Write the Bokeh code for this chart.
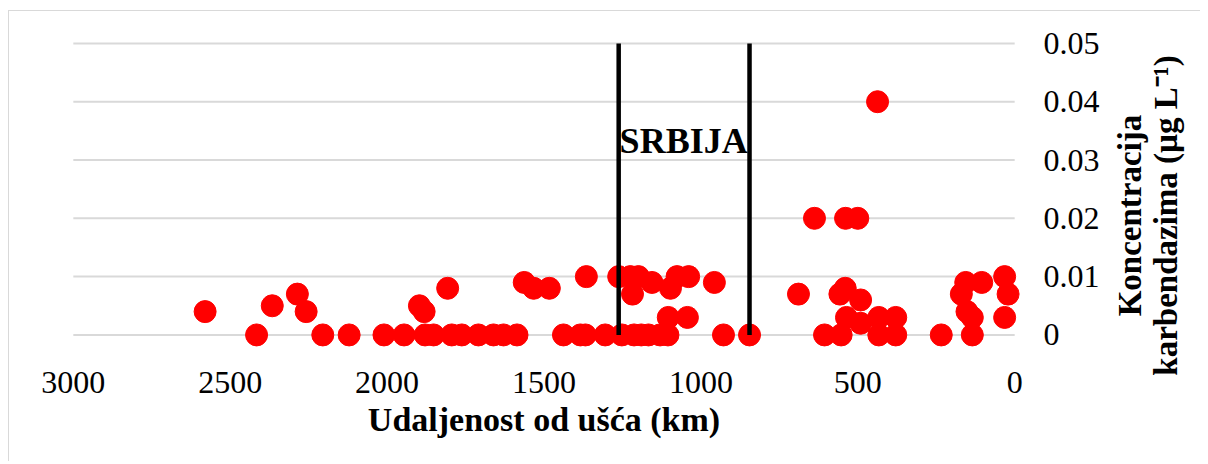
from bokeh.plotting import figure
from bokeh.layouts import row
from bokeh.models import Range1d, FixedTicker, CustomJSTickFormatter, Label
from bokeh.core.properties import value
from bokeh.embed import file_html
from bokeh.resources import INLINE

# ---- data ----
distance_km = [2580, 2416, 2366, 2286, 2258, 2205, 2121, 2010, 1946, 1897,
               1882, 1879, 1852, 1807, 1794, 1762, 1709, 1661, 1629, 1586,
               1563, 1533, 1483, 1438, 1384, 1368, 1365, 1305, 1262, 1252,
               1225, 1199, 1218, 1213, 1190, 1167, 1130, 1105, 1156, 1097,
               1076, 1039, 1104, 1043, 957, 928, 845,
               689, 638, 539, 500, 437, 606, 553, 557, 540, 491, 536, 491,
               433, 379, 433, 379, 234, 170, 156, 105, 152, 135, 135, 32, 21, 32]
concentration = [0.004, 0, 0.005, 0.007, 0.004, 0, 0, 0, 0, 0.005,
                 0.004, 0, 0, 0.008, 0, 0, 0, 0, 0, 0,
                 0.009, 0.008, 0.008, 0, 0, 0, 0.01, 0, 0.01, 0,
                 0.01, 0.01, 0.007, 0, 0, 0, 0, 0, 0.009, 0.008,
                 0.01, 0.01, 0.003, 0.003, 0.009, 0, 0,
                 0.007, 0.02, 0.02, 0.02, 0.04, 0, 0, 0.007, 0.008, 0.006, 0.003, 0.002,
                 0.003, 0.003, 0, 0, 0, 0.007, 0.009, 0.009, 0.004, 0.003, 0, 0.01, 0.007, 0.003]
border_km = [1262, 845]          # Serbian section of the river
x_ticks = [3000, 2500, 2000, 1500, 1000, 500, 0]
y_ticks = [0, 0.01, 0.02, 0.03, 0.04, 0.05]
x_title = "Udaljenost od ušća (km)"
y_title_lines = ["Koncentracija", "karbendazima (µg L⁻¹)"]
region_label = "SRBIJA"

FONT = "Liberation Serif"
H = 450

p = figure(width=1101, height=H,
           x_range=Range1d(3060, -60), y_range=Range1d(-0.0025, 0.0505),
           y_axis_location="right", output_backend="svg", toolbar_location=None,
           min_border_left=45, min_border_right=77, min_border_top=29, min_border_bottom=112)
p.grid.visible = False
p.outline_line_color = None
p.frame_align = False

# horizontal gridlines spanning the axis extent
n = len(y_ticks)
p.segment(x0=[x_ticks[0]] * n, x1=[x_ticks[-1]] * n, y0=y_ticks, y1=y_ticks,
          line_color="#d9d9d9", line_width=2)

p.scatter(distance_km, concentration, size=22, fill_color="#ff0000", line_color="#ff0000")

m = len(border_km)
p.segment(x0=border_km, x1=border_km, y0=[y_ticks[0]] * m, y1=[y_ticks[-1]] * m,
          line_color="black", line_width=4.5)

# axes
xa = p.xaxis[0]
xa.ticker = FixedTicker(ticks=x_ticks)
xa.axis_line_color = None
xa.major_tick_line_color = None
xa.minor_tick_line_color = None
xa.major_tick_out = 0
xa.major_label_standoff = 22
xa.major_label_text_font = FONT
xa.major_label_text_font_size = "32px"
xa.major_label_text_color = "black"
xa.axis_label = x_title
xa.axis_label_text_font = FONT
xa.axis_label_text_font_style = "bold"
xa.axis_label_text_font_size = "34px"
xa.axis_label_text_color = "black"
xa.axis_label_standoff = 5

ya = p.yaxis[0]
ya.ticker = FixedTicker(ticks=y_ticks)
ya.formatter = CustomJSTickFormatter(code="return tick.toFixed(2).replace(/\\.?0+$/, '');")
ya.axis_line_color = None
ya.major_tick_line_color = None
ya.minor_tick_line_color = None
ya.major_tick_out = 0
ya.major_label_standoff = 10
ya.major_label_text_font = FONT
ya.major_label_text_font_size = "32px"
ya.major_label_text_color = "black"

p.add_layout(Label(x=1055, y=0.0333, text=region_label, text_align="center",
                   text_baseline="middle", text_font=FONT, text_font_style="bold",
                   text_font_size="36px", text_color="black"))

# side panel holding the two-line right axis title (reads upward)
p2 = figure(width=90, height=H, x_range=Range1d(0, 90), y_range=Range1d(0, H),
            x_axis_location=None, y_axis_location=None,
            output_backend="svg", toolbar_location=None,
            min_border_left=0, min_border_right=0, min_border_top=0, min_border_bottom=0)
p2.grid.visible = False
p2.outline_line_color = None
p2.frame_align = False
p2.text(x=[19, 55], y=[246, 246], text=y_title_lines, angle=1.5707963,
        text_align="center", text_baseline="middle",
        text_font=value(FONT), text_font_style="bold", text_font_size="33px",
        text_color="black")

layout = row(p, p2)
layout.styles = {"margin-left": "8px", "margin-top": "10px",
                 "border-left": "1px solid #d9d9d9", "border-top": "1px solid #d9d9d9"}

open("out.html", "w").write(file_html(layout, INLINE))
